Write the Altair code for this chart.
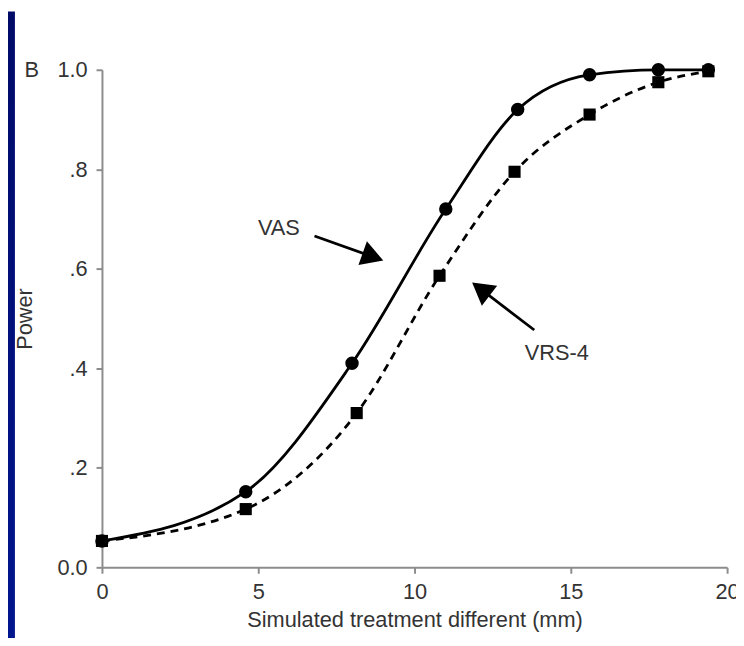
import altair as alt
import pandas as pd

# ---- data ----
vas_x = [0, 4.6, 8.0, 11.0, 13.3, 15.6, 17.8, 19.4]
vas_y = [0.053, 0.152, 0.41, 0.72, 0.92, 0.99, 1.0, 1.0]
vrs_x = [0, 4.6, 8.15, 10.8, 13.2, 15.6, 17.8, 19.4]
vrs_y = [0.053, 0.117, 0.31, 0.586, 0.795, 0.91, 0.975, 0.997]

x_ticks = [0, 5, 10, 15, 20]
y_ticks = [0, 0.2, 0.4, 0.6, 0.8, 1.0]

label_names = ["VAS", "VRS-4"]
label_x = [5.66, 14.55]
label_y = [0.682, 0.43]

arrow_x1 = [6.80, 13.83]
arrow_y1 = [0.666, 0.477]
arrow_x2 = [8.67, 12.12]
arrow_y2 = [0.624, 0.559]
arrow_angle = [109.6, 307.3]

FONT = "Liberation Sans"
TXT = "#333333"
AX = "#8c8c8c"

W, H = 632, 503

vas = pd.DataFrame({"x": vas_x, "y": vas_y})
vrs = pd.DataFrame({"x": vrs_x, "y": vrs_y})
labels = pd.DataFrame({"x": label_x, "y": label_y, "t": label_names})
arrows = pd.DataFrame({"x": arrow_x1, "y": arrow_y1, "x2": arrow_x2,
                       "y2": arrow_y2, "a": arrow_angle})

xs = alt.Scale(domain=[0, 20], nice=False, zero=False)
ys = alt.Scale(domain=[0, 1], nice=False, zero=False)

x_axis = alt.Axis(values=x_ticks, title="Simulated treatment different (mm)",
                  titleX=W / 2, titleY=53, titleBaseline="middle",
                  titleAlign="center", titleAnchor=None)
y_axis = alt.Axis(values=y_ticks, title="Power",
                  labelExpr="datum.value == 0 ? '0.0' : datum.value == 1 ? '1.0' : '.' + format(datum.value*10, 'd')",
                  titleX=-78, titleY=H / 2, titleAngle=-90,
                  titleBaseline="middle", titleAlign="center", titleAnchor=None)

X = alt.X("x:Q", scale=xs, axis=x_axis)
Y = alt.Y("y:Q", scale=ys, axis=y_axis)

strip = alt.Chart(pd.DataFrame({"d": [0]})).mark_rect(
    color=alt.Gradient(gradient="linear", x1=0, y1=0, x2=0, y2=1,
                       stops=[alt.GradientStop(offset=0, color="#000b68"),
                              alt.GradientStop(offset=1, color="#00168f")])
).encode(x=alt.value(-95), x2=alt.value(-88), y=alt.value(-59), y2=alt.value(H + 80))

vas_line = alt.Chart(vas).mark_line(color="black", strokeWidth=2.8,
                                    interpolate="monotone").encode(x=X, y=Y)
vrs_line = alt.Chart(vrs).mark_line(color="black", strokeWidth=2.8,
                                    strokeDash=[8, 6],
                                    interpolate="monotone").encode(x=X, y=Y)
vas_pts = alt.Chart(vas).mark_point(shape="circle", filled=True, size=185,
                                    color="black", opacity=1).encode(x=X, y=Y)
vrs_pts = alt.Chart(vrs).mark_point(shape="square", filled=True, size=150,
                                    color="black", opacity=1).encode(x=X, y=Y)

arrow_lines = alt.Chart(arrows).mark_rule(color="black", strokeWidth=2.8).encode(
    x=alt.X("x:Q", scale=xs), y=alt.Y("y:Q", scale=ys),
    x2="x2:Q", y2="y2:Q")
arrow_heads = alt.Chart(arrows).mark_point(shape="triangle-up", filled=True,
                                           size=650, color="black", opacity=1).encode(
    x=alt.X("x2:Q", scale=xs), y=alt.Y("y2:Q", scale=ys),
    angle=alt.Angle("a:Q", scale=None))

text = alt.Chart(labels).mark_text(font=FONT, fontSize=22, color=TXT,
                                   align="center", baseline="middle").encode(
    x=alt.X("x:Q", scale=xs), y=alt.Y("y:Q", scale=ys), text="t:N")

b_label = alt.Chart(pd.DataFrame({"t": ["B"]})).mark_text(
    font=FONT, fontSize=22, color=TXT, align="center", baseline="middle"
).encode(x=alt.value(-71), y=alt.value(0), text="t:N")

chart = alt.layer(strip, vrs_line, vas_line, vrs_pts, vas_pts,
                  arrow_lines, arrow_heads, text, b_label).properties(
    width=W, height=H,
    autosize=alt.AutoSizeParams(type="none"),
    padding={"left": 95, "top": 59, "right": 9, "bottom": 68},
    background="white",
).configure_view(stroke=None).configure_axis(
    grid=False, domainColor=AX, domainWidth=2, tickColor=AX, tickWidth=2,
    tickSize=6, labelPadding=9, labelFont=FONT, labelFontSize=22,
    labelColor=TXT, titleFont=FONT, titleFontSize=22, titleColor=TXT,
    titleFontWeight="normal", labelFlush=False, labelOverlap=False
)

chart.save("out.html", embed_options={"renderer": "svg", "actions": False})
